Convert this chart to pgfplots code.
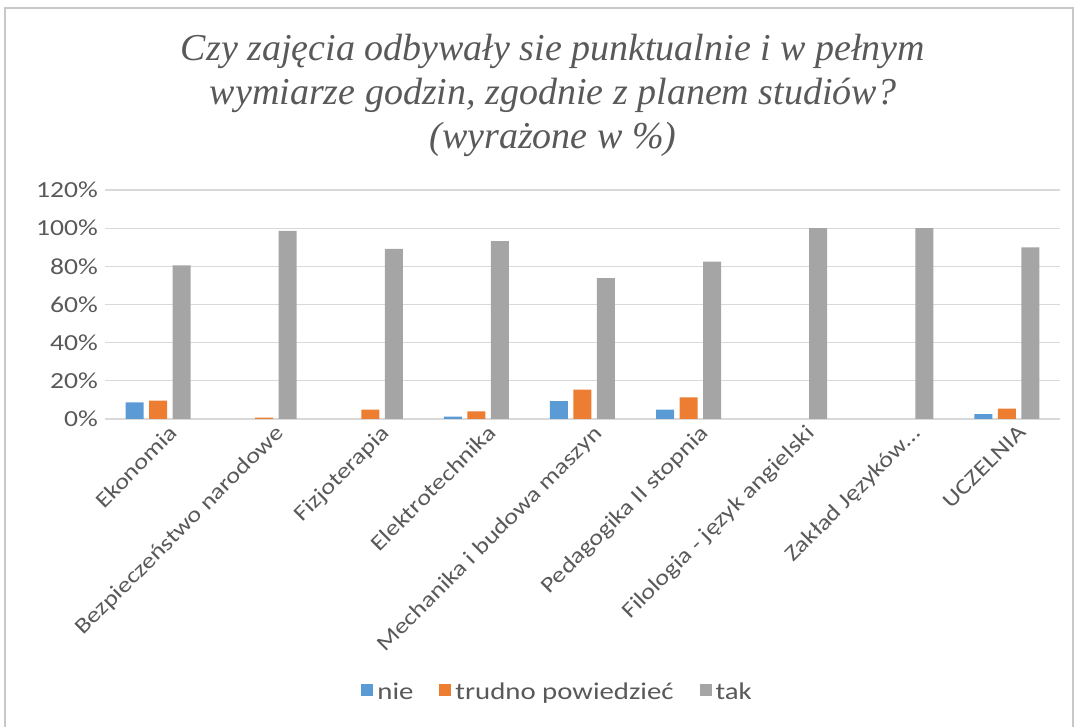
\documentclass[border=0pt]{standalone}
\usepackage{pgfplots}
\pgfplotsset{compat=1.18}
\usepackage{fontspec}
\setmainfont[FakeStretch=1.2]{Carlito}
\newfontfamily\titlefont{Liberation Serif}

\definecolor{cnie}{RGB}{91,155,213}
\definecolor{ctrudno}{RGB}{237,125,49}
\definecolor{ctak}{RGB}{165,165,165}
\definecolor{gridc}{RGB}{217,217,217}
\definecolor{txtc}{RGB}{89,89,89}
\definecolor{framec}{RGB}{200,200,200}

\begin{document}
\begin{tikzpicture}
% page = 1078 x 727 px at 0.5pt per px, axis origin at plot area's lower left
\useasboundingbox (-52.5pt,-154pt) rectangle (486.5pt,209.5pt);
\draw[framec, line width=0.6pt] (-50pt,-154pt) -- (-50pt,205.5pt) -- (484pt,205.5pt) -- (484pt,-154pt);

\node[align=center, text=txtc, font={\titlefont\itshape\fontsize{19}{22}\selectfont}]
  at (224pt,162pt) {Czy zajęcia odbywały sie punktualnie i w pełnym\\
  wymiarze godzin, zgodnie z planem studiów?\\(wyrażone w \%)};

\begin{axis}[
    at={(0pt,0pt)}, anchor=south west,
    scale only axis,
    width=477.5pt, height=114.5pt,
    ybar=2.75pt,
    bar width=9pt,
    xmin=-0.5, xmax=8.5,
    ymin=0, ymax=120,
    xtick={0,...,8},
    xticklabels={Ekonomia, Bezpieczeństwo narodowe, Fizjoterapia, Elektrotechnika,
        Mechanika i budowa maszyn, Pedagogika II stopnia, Filologia - język angielski,
        Zakład Języków…, UCZELNIA},
    xticklabel style={rotate=45, anchor=north east, font=\fontsize{11}{12}\selectfont,
        text=txtc, inner sep=1pt, xshift=3pt, yshift=-4pt},
    ytick={0,20,...,120},
    yticklabel={\pgfmathprintnumber{\tick}\%},
    yticklabel style={font=\fontsize{11.5}{12}\selectfont, text=txtc},
    /pgf/number format/assume math mode=true,
    major tick length=0pt,
    axis x line*=bottom,
    axis y line*=left,
    x axis line style={draw=gridc, line width=0.6pt},
    y axis line style={draw=none},
    ymajorgrids,
    grid style={draw=gridc, line width=0.6pt},
    legend style={at={(0.475,-1.196)}, anchor=center, draw=none,
        legend columns=3, font=\fontsize{12}{13}\selectfont, text=txtc,
        /tikz/every even column/.append style={column sep=11pt}},
    legend image code/.code={\fill[#1] (0pt,-1.8pt) rectangle (6pt,4.2pt);},
]
\addplot[fill=cnie, draw=none] coordinates {
    (0,8.7) (3,1.2) (4,9.4) (5,4.9) (8,2.6)
};
\addplot[fill=ctrudno, draw=none] coordinates {
    (0,9.6) (1,0.7) (2,4.9) (3,4.0) (4,15.4) (5,11.3) (8,5.4)
};
\addplot[fill=ctak, draw=none] coordinates {
    (0,80.5) (1,98.6) (2,89.2) (3,93.2) (4,73.8) (5,82.5) (6,100) (7,100) (8,89.9)
};
\legend{nie, trudno powiedzieć, tak}
\end{axis}
\end{tikzpicture}
\end{document}
